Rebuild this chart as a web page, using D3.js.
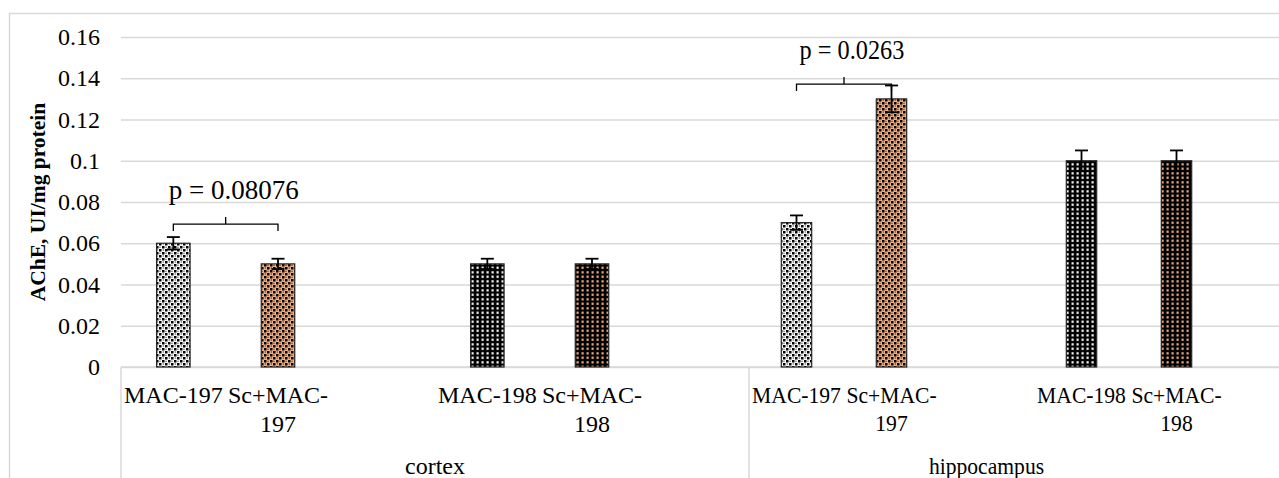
<!DOCTYPE html>
<html>
<head>
<meta charset="utf-8">
<script src="https://cdn.jsdelivr.net/npm/d3@7"></script>
<style>
  body { margin: 0; background: #fff; }
  svg { display: block; }
  text { font-family: "Liberation Serif", "Times New Roman", serif; fill: #000; }
</style>
</head>
<body>
<svg id="chart" width="1279" height="478"></svg>
<script>
// Data
const groups = ['cortex', 'hippocampus'];
const categories = ['MAC-197', 'Sc+MAC-197', 'MAC-198', 'Sc+MAC-198'];
const cortexValues = [0.06, 0.05, 0.05, 0.05];
const cortexErrors = [0.003, 0.0025, 0.0025, 0.0025];
const hippocampusValues = [0.07, 0.13, 0.10, 0.10];
const hippocampusErrors = [0.0035, 0.0065, 0.005, 0.005];
const yTicks = [0, 0.02, 0.04, 0.06, 0.08, 0.1, 0.12, 0.14, 0.16];
const yTitle = 'AChE, UI/mg protein';
const pLabels = ['p = 0.08076', 'p = 0.0263'];
const pLevels = [0.0693, 0.1372];

const rows = [];
groups.forEach((g, gi) => {
  const vals = gi === 0 ? cortexValues : hippocampusValues;
  const errs = gi === 0 ? cortexErrors : hippocampusErrors;
  categories.forEach((c, ci) => rows.push({group: g, cat: c, value: vals[ci], err: errs[ci]}));
});

// Set up plot area
const svg = d3.select('#chart');
const plot = {left: 121, right: 1300, top: 37, bottom: 367};

const y = d3.scaleLinear().domain([0, 0.16]).range([plot.bottom, plot.top]);

// group boxes on the category axis, with one empty column between the pairs
const groupBox = d3.scaleOrdinal(groups, [[121, 749], [749, 1224]]);
const groupCols = d3.scaleOrdinal(groups, [6, 5]);
const squeeze = d3.scaleOrdinal(groups, [1, 0.9]);
const colOf = d3.scaleOrdinal(categories, [0, 1, 3, 4]);
const inner = g => d3.scaleBand().domain(d3.range(groupCols(g))).range(groupBox(g));
const xCenter = (g, c) => { const s = inner(g); return s(colOf(c)) + s.bandwidth() / 2; };
const barW = g => inner(g).bandwidth() * 0.32;

// Patterns
const defs = svg.append('defs');
function diamond(id, bg) {
  const p = defs.append('pattern').attr('id', id).attr('patternUnits', 'userSpaceOnUse')
    .attr('width', 6).attr('height', 6);
  p.append('rect').attr('width', 6).attr('height', 6).attr('fill', bg);
  p.append('rect').attr('x', 0).attr('y', 0).attr('width', 2.5).attr('height', 2.5).attr('fill', '#000');
  p.append('rect').attr('x', 3).attr('y', 3).attr('width', 2.5).attr('height', 2.5).attr('fill', '#000');
  p.append('rect').attr('x', 3.5).attr('y', 0.75).attr('width', 1).attr('height', 1).attr('fill', '#000');
  p.append('rect').attr('x', 0.75).attr('y', 3.5).attr('width', 1).attr('height', 1).attr('fill', '#000');
}
function grid(id, fg) {
  const p = defs.append('pattern').attr('id', id).attr('patternUnits', 'userSpaceOnUse')
    .attr('width', 5).attr('height', 4.5);
  p.append('rect').attr('width', 5).attr('height', 4.5).attr('fill', '#000');
  p.append('rect').attr('x', 1.5).attr('y', 1.2).attr('width', 2.2).attr('height', 2.2).attr('fill', fg);
}
diamond('pLight', '#ffffff');
diamond('pLightOrange', '#f4b183');
grid('pDark', '#ffffff');
grid('pDarkOrange', '#f4b183');
const fill = d3.scaleOrdinal(categories, ['url(#pLight)', 'url(#pLightOrange)', 'url(#pDark)', 'url(#pDarkOrange)']);

// Outer border
svg.append('rect').attr('x', 9.5).attr('y', 13.5).attr('width', 1300).attr('height', 500)
  .attr('fill', 'none').attr('stroke', '#d9d9d9').attr('stroke-width', 1.5);

// Gridlines + y axis labels
svg.append('g').attr('transform', `translate(${plot.left},0)`)
  .call(d3.axisLeft(y).tickValues(yTicks).tickSize(-(plot.right - plot.left)).tickFormat(''))
  .call(g => g.select('.domain').remove())
  .call(g => g.selectAll('line').attr('stroke', '#d9d9d9').attr('stroke-width', 1.5));

svg.append('g').attr('transform', `translate(${plot.left},0)`)
  .call(d3.axisLeft(y).tickValues(yTicks).tickSize(0).tickPadding(21).tickFormat(d => String(d)))
  .call(g => g.select('.domain').remove())
  .attr('font-family', null).attr('font-size', null)
  .call(g => g.selectAll('text').style('font-size', '24px').attr('fill', '#000'));

svg.append('text')
  .attr('transform', `translate(45,${(plot.top + plot.bottom) / 2}) rotate(-90)`)
  .attr('text-anchor', 'middle')
  .style('font-size', '21.5px').style('font-weight', 'bold')
  .text(yTitle);

// Category axis
svg.append('line').attr('x1', plot.left).attr('x2', plot.right)
  .attr('y1', plot.bottom).attr('y2', plot.bottom)
  .attr('stroke', '#d9d9d9').attr('stroke-width', 1.5);

svg.selectAll('.sep').data(groups).join('line').attr('class', 'sep')
  .attr('x1', g => groupBox(g)[0]).attr('x2', g => groupBox(g)[0])
  .attr('y1', plot.bottom).attr('y2', 490)
  .attr('stroke', '#d9d9d9').attr('stroke-width', 1.5);

svg.selectAll('.glabel').data(groups).join('text').attr('class', 'glabel')
  .attr('transform', g => `translate(${d3.mean(groupBox(g))},474) scale(${squeeze(g)},1)`)
  .attr('text-anchor', 'middle').style('font-size', '24px')
  .text(g => g);

const wrapWidth = inner(groups[0]).bandwidth();
const catLabels = svg.selectAll('.clabel').data(rows).join('text').attr('class', 'clabel')
  .attr('text-anchor', 'middle').style('font-size', '24px')
  .attr('transform', d => `translate(${xCenter(d.group, d.cat)},403) scale(${squeeze(d.group)},1)`);
catLabels.each(function(d) {
  const t = d3.select(this);
  t.append('tspan').attr('x', 0).text(d.cat);
  if (this.getComputedTextLength() > wrapWidth) {
    const cut = d.cat.lastIndexOf('-') + 1;
    t.selectAll('tspan').remove();
    t.append('tspan').attr('x', 0).text(d.cat.slice(0, cut));
    t.append('tspan').attr('x', 0).attr('dy', 28.5).text(d.cat.slice(cut));
  }
});

// Bars
svg.selectAll('.bar').data(rows).join('rect').attr('class', 'bar')
  .attr('x', d => xCenter(d.group, d.cat) - barW(d.group) / 2)
  .attr('width', d => barW(d.group))
  .attr('y', d => y(d.value))
  .attr('height', d => y(0) - y(d.value))
  .attr('fill', d => fill(d.cat))
  .attr('stroke', '#262626').attr('stroke-width', 1.2);

// Error bars
const eb = svg.selectAll('.err').data(rows).join('g').attr('class', 'err')
  .attr('stroke', '#000').attr('stroke-width', 1.8);
eb.append('line')
  .attr('x1', d => xCenter(d.group, d.cat)).attr('x2', d => xCenter(d.group, d.cat))
  .attr('y1', d => y(d.value - d.err)).attr('y2', d => y(d.value + d.err));
[-1, 1].forEach(s => {
  eb.append('line')
    .attr('x1', d => xCenter(d.group, d.cat) - 6.5).attr('x2', d => xCenter(d.group, d.cat) + 6.5)
    .attr('y1', d => y(d.value + s * d.err)).attr('y2', d => y(d.value + s * d.err));
});

// Significance brackets
groups.forEach((g, gi) => {
  const x0 = xCenter(g, categories[0]), x1 = xCenter(g, categories[1]);
  const yb = y(pLevels[gi]);
  const xm = (x0 + x1) / 2;
  svg.append('path')
    .attr('d', `M${x0},${yb + 7}V${yb}H${x1}V${yb + 7}M${xm},${yb}V${yb - 7}`)
    .attr('fill', 'none').attr('stroke', '#000').attr('stroke-width', 1.3);
  svg.append('text')
    .attr('transform', `translate(${xm + 8},${yb - 25}) scale(${squeeze(g)},1)`)
    .attr('text-anchor', 'middle').style('font-size', '27px')
    .text(pLabels[gi]);
});
</script>
</body>
</html>
